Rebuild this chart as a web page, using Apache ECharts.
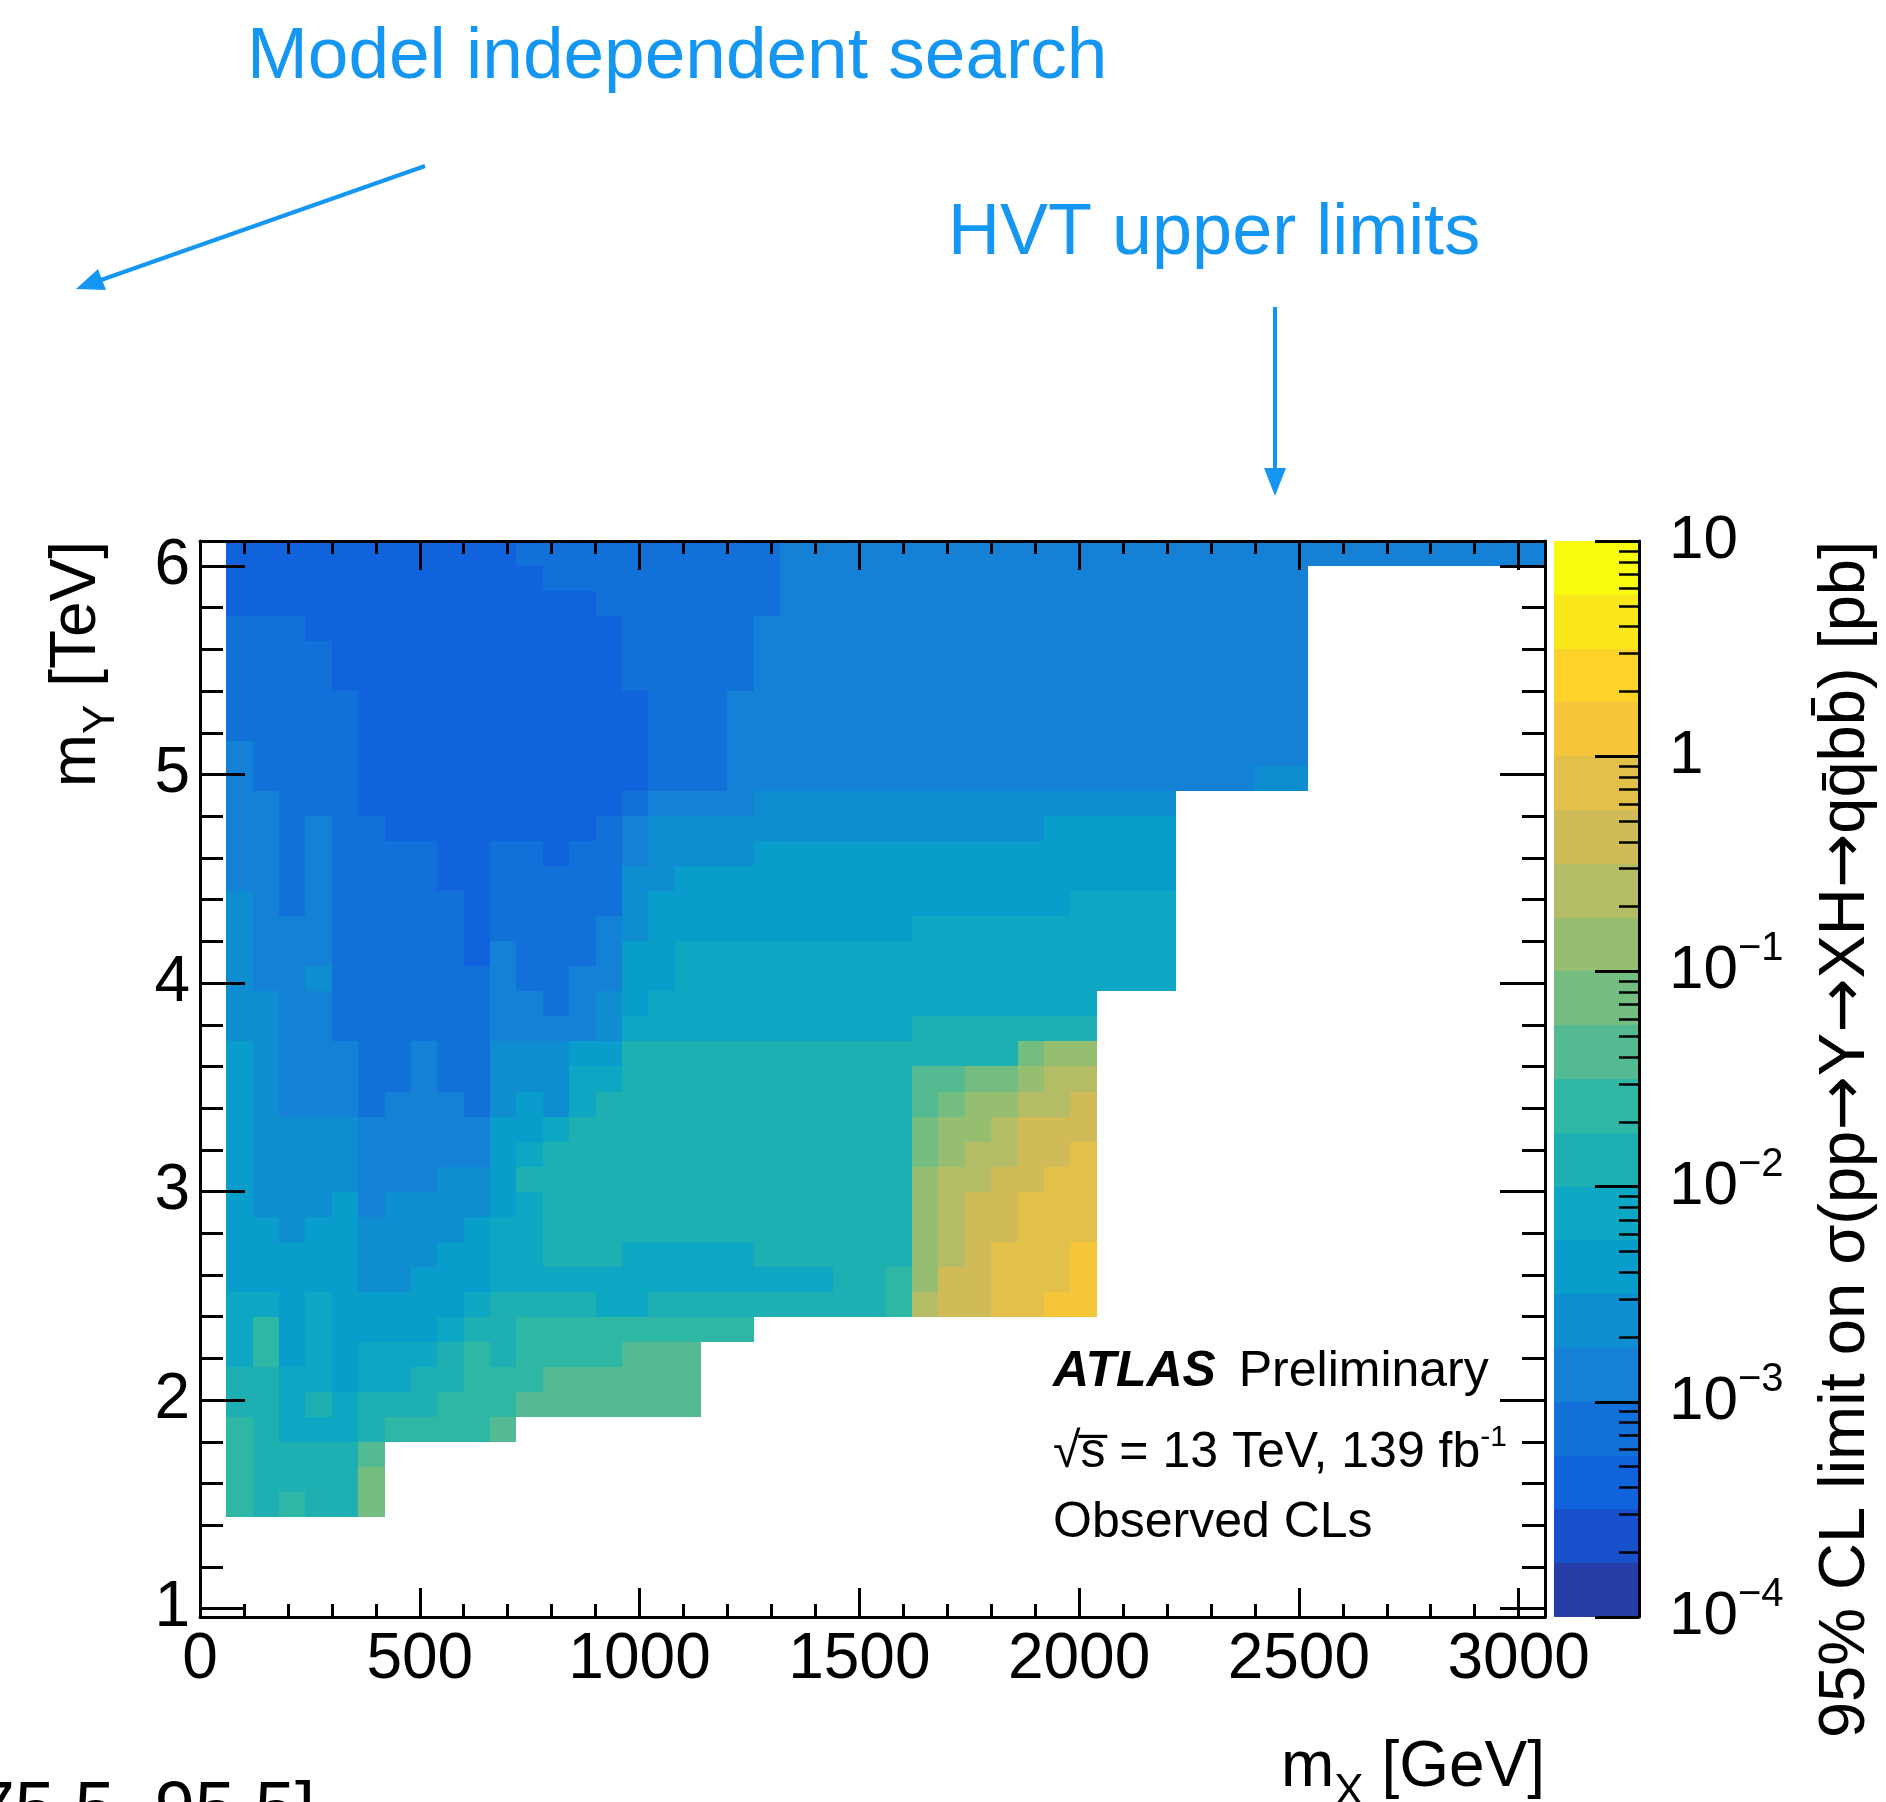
<!DOCTYPE html>
<html><head><meta charset="utf-8">
<script src="https://cdn.jsdelivr.net/npm/echarts@6/dist/echarts.min.js"></script>
<style>html,body{margin:0;padding:0;background:#fff}#c{width:1886px;height:1802px}</style>
</head><body><div id="c"></div>
<script>
// ---------------- DATA ----------------
// mX bins [GeV]: 60 GeV wide, first bin starts at 60 GeV
const mxFirstBinLow = 60;
const mxBinWidth = 60;
// mY bins [TeV]: 0.12 TeV tall, top bin ends at 6.12 TeV
const myTopBinHigh = 6.12;
const myBinHeight = 0.12;
// axis tick labels
const xTickLabels = [0, 500, 1000, 1500, 2000, 2500, 3000];
const yTickLabels = [1, 2, 3, 4, 5, 6];
const zTickExponents = [-4, -3, -2, -1, 0, 1];
// Observed 95% CL limit [pb], read as colour band (base-36 digit k, 0..19):
// band k covers 10^(-4+k/4) .. 10^(-4+(k+1)/4) pb. One string per mY row, top row first,
// one character per mX bin starting at 60 GeV.
const limitBandRows = [
  '22222222222' + '3333333333' + '44444444444444444444444444444',
  '222222222222' + '333333333' + '44444444444444444444',
  '22222222222222' + '3333333' + '44444444444444444444',
  '333' + '222222222222' + '33333' + '444444444444444444444',
  '3333' + '22222222222' + '33333' + '444444444444444444444',
  '3333' + '22222222222' + '33333' + '444444444444444444444',
  '33333' + '22222222222' + '333' + '4444444444444444444444',
  '33333' + '22222222222' + '333' + '4444444444444444444444',
  '4' + '3333' + '22222222222' + '333' + '4444444444444444444444',
  '4' + '3333' + '22222222222' + '333' + '44444444444444444444' + '55',
  '44' + '333' + '2222222222' + '3' + '4444' + '5555555555555555',
  '44' + '3' + '4' + '33' + '22222222' + '3' + '4' + '555555555555555' + '66666',
  '44' + '3' + '4' + '3333' + '22' + '33' + '2' + '33' + '4' + '5555' + '6666666666666666',
  '44343333223333' + '3' + '55' + '6666666666666666666',
  '54343333323333' + '3' + '5' + '6' + '666666666666666' + '7777',
  '54443333323333' + '4' + '5' + '6' + '666666666' + '7777777777',
  '54443333324333' + '4' + '66' + '7777777777777777777',
  '54453333334334' + '4' + '66' + '7777777777777777777',
  '55443333334434' + '5' + '6' + '7' + '7777777777777777',
  '55443333334444' + '5' + '77777777777' + '8888888',
  '65444334335556' + '6' + '888888888888888' + 'b' + 'cc',
  '65444334335557' + '7' + '88888888888' + 'aabbcdd',
  '65444344435657' + '8' + '88888888888' + 'abccdde',
  '65555444446678' + '888888888888' + 'bccdeee',
  '65555444446788' + '888888888888' + 'bcddeef',
  '65555444556888' + '888888888888' + 'cddeeff',
  '65556455556788' + '888888888888' + 'cdeefff',
  '66566555567788' + '888888888888' + 'cdeefff',
  '66666555667788' + '8' + '77777' + '888888' + 'cdefffg',
  '66666556667777' + '777777777' + '88' + '9' + 'ceefffg',
  '77676666678888' + '77' + '888888888' + '9' + 'deeffgg',
  '79676666788999' + '999999',
  '79676777898999' + '9aaa',
  '887767788999aa' + 'aaaa',
  '88787888999aaa' + 'aaaa',
  '9877789999a',
  '98888a',
  '98888b',
  '98988b'
];

// ---------------- STYLE ----------------
const FONT = 'Liberation Sans';
const BLUE = '#1496F2';
const birdPalette = [
  'rgb(39,61,168)','rgb(23,81,203)','rgb(16,99,220)','rgb(18,113,217)','rgb(20,128,214)',
  'rgb(14,142,209)','rgb(9,157,204)','rgb(13,167,195)','rgb(30,175,179)','rgb(46,183,164)',
  'rgb(83,186,145)','rgb(116,189,128)','rgb(150,190,113)','rgb(180,189,101)','rgb(209,187,89)',
  'rgb(227,192,74)','rgb(245,198,58)','rgb(253,211,42)','rgb(251,232,28)','rgb(249,251,14)'
];

// ---------------- BUILD ----------------
const cells = [];
limitBandRows.forEach((row, r) => {
  const yHi = +(myTopBinHigh - r * myBinHeight).toFixed(4);
  const yLo = +(yHi - myBinHeight).toFixed(4);
  for (let c = 0; c < row.length; c++) {
    const k = parseInt(row[c], 36);
    const xLo = mxFirstBinLow + c * mxBinWidth;
    cells.push([xLo, xLo + mxBinWidth, yLo, yHi, Math.pow(10, -4 + (k + 0.5) / 4)]);
  }
});
const colorBands = birdPalette.map((_, i) => [0, 1, -4 + i / 4, -4 + (i + 1) / 4, Math.pow(10, -4 + (i + 0.5) / 4)]);
const pieces = birdPalette.map((col, i) => ({ gte: Math.pow(10, -4 + i / 4), lt: Math.pow(10, -4 + (i + 1) / 4), color: col }));

const xMinor = [];
for (let v = 100; v < 3060; v += 100) if (v % 500 !== 0) xMinor.push(v);
const yMinor = [];
for (let i = 6; i <= 30; i++) { if (i % 5 !== 0) yMinor.push(+(i * 0.2).toFixed(2)); }
const zMinor = [];
for (let n = -4; n < 1; n++) for (let m = 2; m <= 9; m++) zMinor.push(n + Math.log10(m));

function renderCell(params, api) {
  const a = api.coord([api.value(0), api.value(3)]);
  const b = api.coord([api.value(1), api.value(2)]);
  const x0 = Math.round(a[0]), y0 = Math.round(a[1]);
  const x1 = Math.round(b[0]), y1 = Math.round(b[1]);
  return { type: 'rect', shape: { x: x0, y: y0, width: x1 - x0, height: y1 - y0 }, style: { fill: api.visual('color') } };
}

const tickStyle = { color: '#000', width: 3 };
function frameAxis(pos, grid, min, max, major, opts) {
  const ax = {
    type: 'value', gridIndex: grid, position: pos, min: min, max: max, z: 10,
    axisLine: { show: !!opts.line, onZero: false, lineStyle: { color: '#000', width: 3 } },
    axisTick: { show: true, inside: true, length: opts.len, customValues: major, lineStyle: tickStyle },
    axisLabel: { show: false },
    splitLine: { show: false }
  };
  if (opts.labels) {
    ax.axisLabel = { show: true, customValues: opts.labels, fontSize: 64, fontFamily: FONT, color: '#000', margin: opts.margin, formatter: v => String(v) };
  }
  return ax;
}

const subTitleRich = {
  m: { fontSize: 64, fontFamily: FONT, fill: '#000', color: '#000', lineHeight: 64 },
  s: { fontSize: 44, fontFamily: FONT, fill: '#000', color: '#000', lineHeight: 94, verticalAlign: 'bottom' }
};

const option = {
  animation: false,
  backgroundColor: '#fff',
  textStyle: { fontFamily: FONT },
  grid: [
    { left: 200, top: 541, width: 1345, height: 1076 },
    { left: 1554, top: 541, width: 85, height: 1076 }
  ],
  xAxis: [
    frameAxis('bottom', 0, 0, 3060, xTickLabels, { line: true, len: 29, labels: xTickLabels, margin: 11 }),
    frameAxis('bottom', 0, 0, 3060, xMinor, { len: 13 }),
    frameAxis('top', 0, 0, 3060, xTickLabels, { line: true, len: 29 }),
    frameAxis('top', 0, 0, 3060, xMinor, { len: 13 }),
    { type: 'value', gridIndex: 1, min: 0, max: 1, show: false }
  ],
  yAxis: [
    frameAxis('left', 0, 0.96, 6.12, yTickLabels, { line: true, len: 45, labels: yTickLabels, margin: 10 }),
    frameAxis('left', 0, 0.96, 6.12, yMinor, { len: 23 }),
    frameAxis('right', 0, 0.96, 6.12, yTickLabels, { line: true, len: 45 }),
    frameAxis('right', 0, 0.96, 6.12, yMinor, { len: 23 }),
    {
      type: 'value', gridIndex: 1, position: 'right', min: -4, max: 1, z: 10,
      axisLine: { show: true, onZero: false, lineStyle: { color: '#000', width: 3 } },
      axisTick: { show: true, inside: true, length: 44, customValues: zTickExponents, lineStyle: tickStyle },
      axisLabel: {
        show: true, customValues: zTickExponents, margin: 30, align: 'left',
        formatter: v => v === 1 ? '{b|10}' : (v === 0 ? '{b|1}' : '{b|10}{s|\u2212' + (-v) + '}'),
        rich: {
          b: { fontSize: 62, fontFamily: FONT, color: '#000', lineHeight: 84 },
          s: { fontSize: 40, fontFamily: FONT, color: '#000', lineHeight: 40, verticalAlign: 'top' }
        }
      },
      splitLine: { show: false }
    },
    {
      type: 'value', gridIndex: 1, position: 'right', min: -4, max: 1, z: 10,
      axisLine: { show: false, onZero: false },
      axisTick: { show: true, inside: true, length: 20, customValues: zMinor, lineStyle: { color: '#000', width: 2.5 } },
      axisLabel: { show: false }, splitLine: { show: false }
    }
  ],
  visualMap: {
    type: 'piecewise', show: false, dimension: 4, seriesIndex: [0, 1], pieces: pieces
  },
  series: [
    { type: 'custom', xAxisIndex: 0, yAxisIndex: 0, data: cells, renderItem: renderCell, encode: { x: [0, 1], y: [2, 3] }, silent: true },
    { type: 'custom', xAxisIndex: 4, yAxisIndex: 4, data: colorBands, renderItem: renderCell, encode: { x: [0, 1], y: [2, 3] }, silent: true }
  ],
  graphic: [
    { type: 'text', x: 247, y: 58, style: { text: 'Model independent search', fontSize: 73, fontFamily: FONT, fill: BLUE, align: 'left', textAlign: 'left', verticalAlign: 'middle', textVerticalAlign: 'middle' } },
    { type: 'line', shape: { x1: 425, y1: 166, x2: 101, y2: 280 }, style: { stroke: BLUE, lineWidth: 4 } },
    { type: 'polygon', shape: { points: [[76, 289], [106, 290], [98, 269]] }, style: { fill: BLUE } },
    { type: 'text', x: 948, y: 234, style: { text: 'HVT upper limits', fontSize: 72, fontFamily: FONT, fill: BLUE, align: 'left', textAlign: 'left', verticalAlign: 'middle', textVerticalAlign: 'middle' } },
    { type: 'line', shape: { x1: 1275, y1: 307, x2: 1275, y2: 470 }, style: { stroke: BLUE, lineWidth: 4 } },
    { type: 'polygon', shape: { points: [[1275, 496], [1264, 468], [1286, 468]] }, style: { fill: BLUE } },
    { type: 'text', x: 1053, y: 1372, z: 20, style: {
        text: '{a|ATLAS}{sp| }{n|Preliminary}', align: 'left', textAlign: 'left', verticalAlign: 'middle', textVerticalAlign: 'middle',
        rich: {
          a: { fontSize: 50, fontFamily: FONT, fontWeight: 'bold', fontStyle: 'italic', fill: '#000', color: '#000' },
          sp: { fontSize: 82, fontFamily: FONT, fill: '#000', color: '#000' },
          n: { fontSize: 50, fontFamily: FONT, fill: '#000', color: '#000' }
        } } },
    { type: 'text', x: 1053, y: 1453, z: 20, style: {
        text: '{n|\u221As\u0305 = 13 TeV, 139 fb}{s|-1}', align: 'left', textAlign: 'left', verticalAlign: 'middle', textVerticalAlign: 'middle',
        rich: {
          n: { fontSize: 50, fontFamily: FONT, fill: '#000', color: '#000', lineHeight: 60 },
          s: { fontSize: 30, fontFamily: FONT, fill: '#000', color: '#000', lineHeight: 30, verticalAlign: 'top' }
        } } },
    { type: 'text', x: 1053, y: 1523, z: 20, style: { text: 'Observed CLs', fontSize: 50, fontFamily: FONT, fill: '#000', align: 'left', textAlign: 'left', verticalAlign: 'middle', textVerticalAlign: 'middle' } },
    { type: 'text', x: 1545, y: 1768, style: {
        text: '{m|m}{s|X}{m| [GeV]}', align: 'right', textAlign: 'right', verticalAlign: 'middle', textVerticalAlign: 'middle',
        rich: subTitleRich } },
    { type: 'text', x: 77, y: 541, rotation: Math.PI / 2, style: {
        text: '{m|m}{s|Y}{m| [TeV]}', align: 'right', textAlign: 'right', verticalAlign: 'middle', textVerticalAlign: 'middle',
        rich: subTitleRich } },
    { type: 'text', x: 1846, y: 541, rotation: Math.PI / 2, style: {
        text: '{t|95% CL limit on \u03C3(pp}{a|\u2192}{t|Y}{a|\u2192}{t|XH}{a|\u2192}{t|qq\u0304bb\u0304) [pb]}',
        align: 'right', textAlign: 'right', verticalAlign: 'middle', textVerticalAlign: 'middle',
        rich: {
          t: { fontSize: 65, fontFamily: FONT, fill: '#000', color: '#000', lineHeight: 74 },
          a: { fontSize: 65, fontFamily: 'DejaVu Sans', fill: '#000', color: '#000', lineHeight: 74 }
        } } },
    { type: 'text', x: 315, y: 1812, style: { text: '[75.5, 95.5]', fontSize: 72, fontFamily: FONT, fill: '#000', align: 'right', textAlign: 'right', verticalAlign: 'middle', textVerticalAlign: 'middle' } }
  ]
};

const chart = echarts.init(document.getElementById('c'), null, { renderer: 'canvas' });
chart.setOption(option);
</script>
</body></html>
